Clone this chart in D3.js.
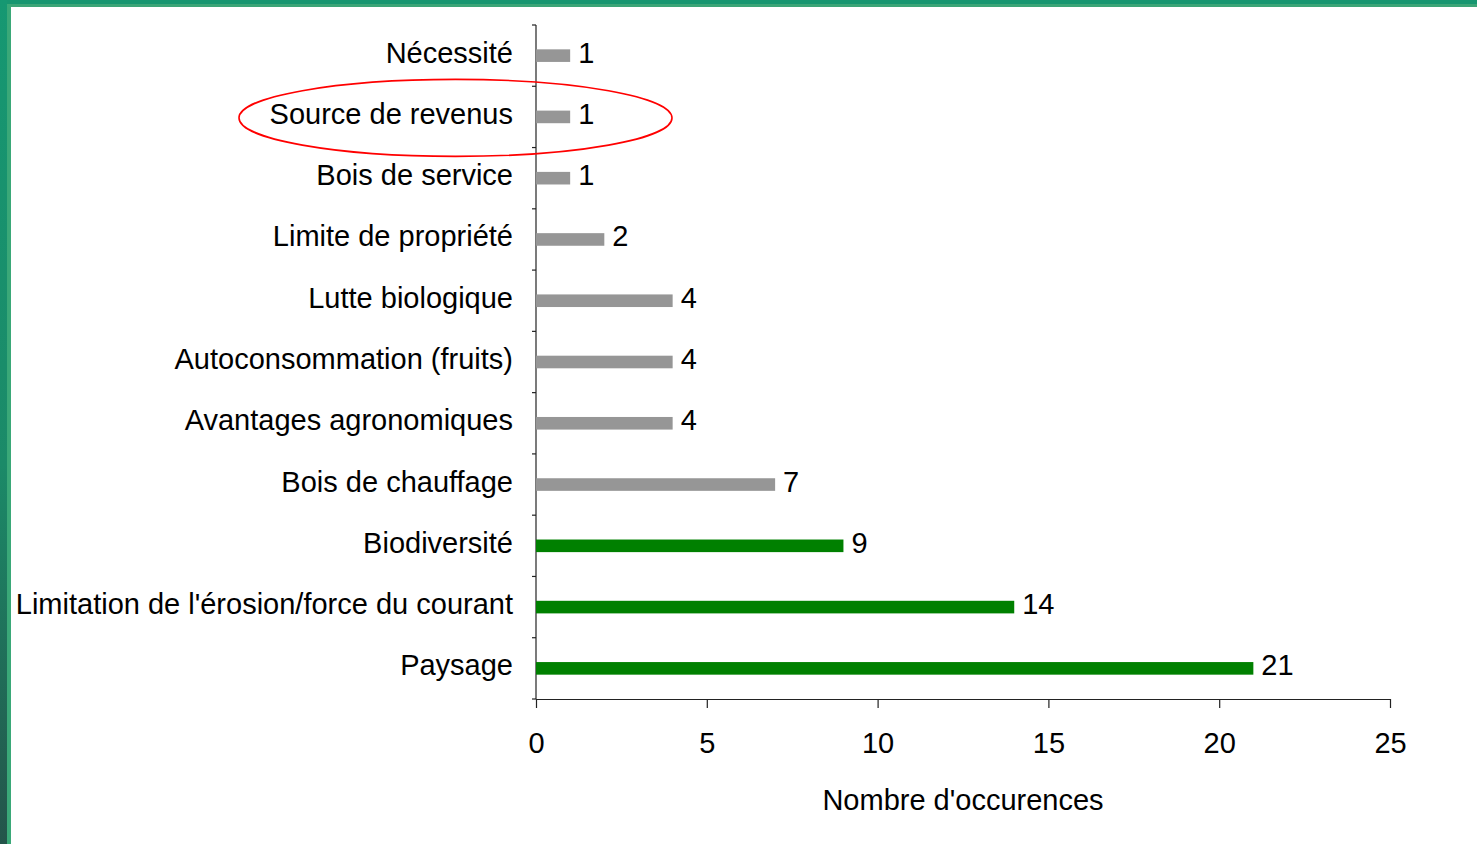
<!DOCTYPE html>
<html><head><meta charset="utf-8">
<script src="https://cdn.jsdelivr.net/npm/d3@7"></script>
<style>html,body{margin:0;padding:0;background:#fff;overflow:hidden}</style>
</head><body>
<svg id="c" width="1477" height="844"></svg>
<script>
const categories = ["Nécessité","Source de revenus","Bois de service","Limite de propriété","Lutte biologique","Autoconsommation (fruits)","Avantages agronomiques","Bois de chauffage","Biodiversité","Limitation de l'érosion/force du courant","Paysage"];
const values = [1,1,1,2,4,4,4,7,9,14,21];
const highlighted = [false,false,false,false,false,false,false,false,true,true,true];
const xTicks = [0,5,10,15,20,25];
const xTitle = "Nombre d'occurences";

const svg = d3.select("#c");
const defs = svg.append("defs");
const g1 = defs.append("linearGradient").attr("id","lb").attr("x1",0).attr("y1",0).attr("x2",0).attr("y2",1);
g1.append("stop").attr("offset","0%").attr("stop-color","#169872");
g1.append("stop").attr("offset","55%").attr("stop-color","#1b8a68");
g1.append("stop").attr("offset","100%").attr("stop-color","#24544a");

// borders
svg.append("rect").attr("x",0).attr("y",0).attr("width",1477).attr("height",4).attr("fill","#179670");
svg.append("rect").attr("x",7).attr("y",4).attr("width",1470).attr("height",3).attr("fill","#3ba577");
svg.append("rect").attr("x",0).attr("y",0).attr("width",7).attr("height",844).attr("fill","url(#lb)");
svg.append("rect").attr("x",7).attr("y",4).attr("width",4).attr("height",840).attr("fill","#3aa878");

const x = d3.scaleLinear().domain([0,25]).range([536,1390]);
const y = d3.scaleBand().domain(categories).range([25,699]);
const font = "'Liberation Sans', Arial, sans-serif";
const fs = 29;

// y axis
const ya = svg.append("g").attr("transform","translate(536,0)");
const bounds = categories.map(c=>y(c)).concat([699]);
ya.selectAll("line.b").data(bounds).enter().append("line").attr("class","b")
  .attr("x1",-4).attr("x2",0).attr("y1",d=>d).attr("y2",d=>d).attr("stroke","#222").attr("stroke-width",1.2);
ya.append("path").attr("d","M0,25V699").attr("stroke","#222").attr("stroke-width",1.2);

const xa = svg.append("g").attr("transform","translate(0,699)")
  .call(d3.axisBottom(x).tickValues(xTicks).tickSize(9).tickSizeOuter(0).tickPadding(24));
xa.select(".domain").attr("stroke","#222").attr("stroke-width",1.2);
xa.selectAll(".tick line").attr("stroke","#222").attr("stroke-width",1.2);
xa.selectAll(".tick text").attr("font-family",font).attr("font-size",fs).attr("fill","#000");

// bars
const bh = 12.6;
svg.selectAll("rect.bar").data(values).enter().append("rect").attr("class","bar")
  .attr("x",x(0)).attr("y",(d,i)=>y(categories[i])+y.bandwidth()/2-bh/2)
  .attr("width",d=>x(d)-x(0)).attr("height",bh)
  .attr("fill",(d,i)=>highlighted[i]?"#008000":"#969696");

// value labels
svg.selectAll("text.val").data(values).enter().append("text").attr("class","val")
  .attr("x",d=>x(d)+8).attr("y",(d,i)=>y(categories[i])+y.bandwidth()/2+7)
  .attr("font-family",font).attr("font-size",fs).text(d=>d);

// category labels
svg.selectAll("text.cat").data(categories).enter().append("text").attr("class","cat")
  .attr("x",513).attr("y",d=>y(d)+y.bandwidth()/2+7).attr("text-anchor","end")
  .attr("font-family",font).attr("font-size",fs).text(d=>d);

svg.append("text").attr("x",(x(0)+x(25))/2).attr("y",810).attr("text-anchor","middle")
  .attr("font-family",font).attr("font-size",fs).text(xTitle);

// highlight ellipse
svg.append("ellipse").attr("cx",455.5).attr("cy",y("Source de revenus")+y.bandwidth()/2+1)
  .attr("rx",216.5).attr("ry",38.5).attr("fill","none").attr("stroke","#ff0000").attr("stroke-width",1.6);
</script>
</body></html>
